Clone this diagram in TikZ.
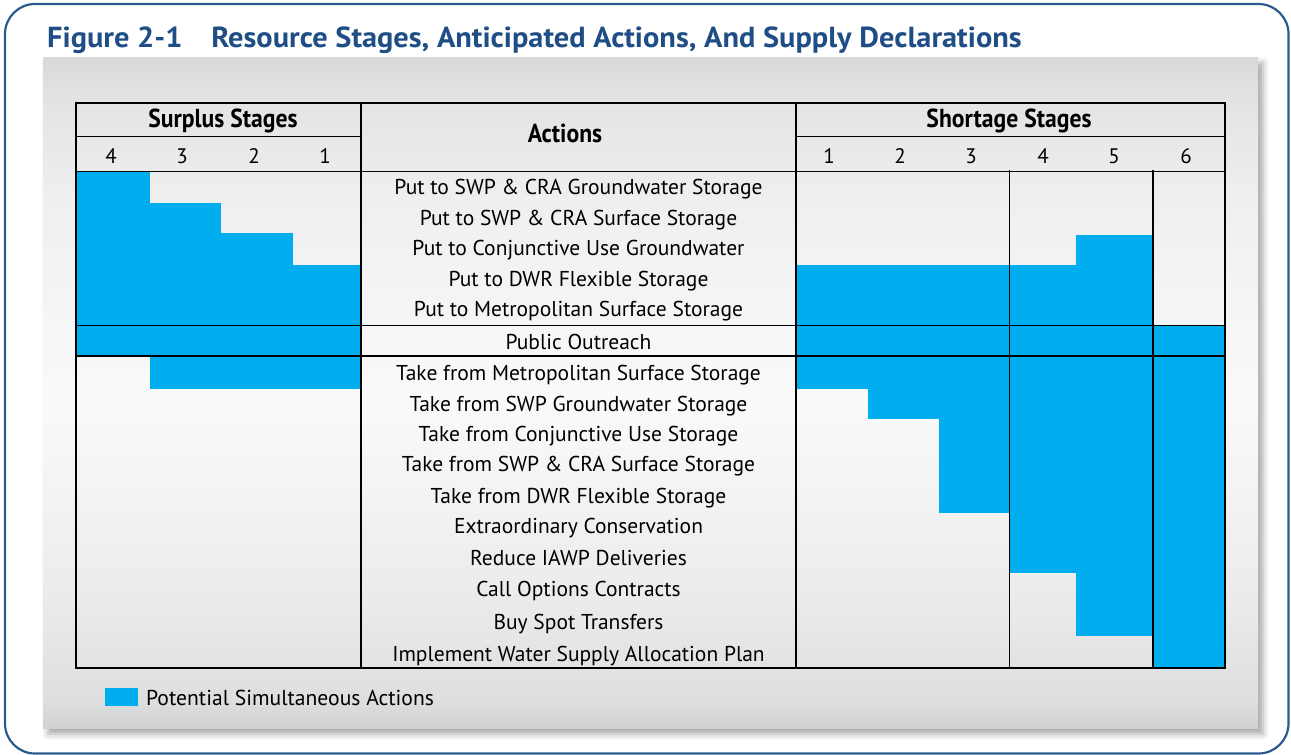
\documentclass[tikz,border=0pt]{standalone}
\usepackage{fontspec}
\usepackage{graphicx}
\setmainfont{PT Sans}
\usetikzlibrary{shadows.blur}
\definecolor{cyanfill}{HTML}{00AEEF}
\definecolor{titleblue}{HTML}{1F4E86}
\definecolor{frameblue}{HTML}{2B5A8E}
\definecolor{pA}{HTML}{D0D1D3}
\definecolor{pB}{HTML}{DDDEDF}
\definecolor{pC}{HTML}{EBEBEC}
\definecolor{pD}{HTML}{FAFAFA}
\definecolor{pE}{HTML}{EFEFF0}
\definecolor{pF}{HTML}{E4E5E6}
\definecolor{pG}{HTML}{D8D9DB}
\pgfdeclareverticalshading{panelshade}{100bp}{%
  color(0bp)=(pA); color(25bp)=(pA); color(27bp)=(pB); color(34.5bp)=(pC);
  color(49.4bp)=(pD); color(64.3bp)=(pE); color(71bp)=(pF); color(75bp)=(pG); color(100bp)=(pG)}
\tikzset{
  grid/.style={line width=1.5pt, black},
  cell/.style={fill=cyanfill},
  action/.style={anchor=base, inner sep=0pt, font=\fontsize{21.5}{24}\selectfont},
  num/.style={anchor=base, inner sep=0pt, font=\fontsize{21}{24}\selectfont},
  headtxt/.style={anchor=base, inner sep=0pt, font=\bfseries\fontsize{26}{28}\selectfont},
}
\newcommand{\cond}[1]{\scalebox{0.91}[1]{#1}}
\begin{document}
\begin{tikzpicture}[x=1pt,y=-1pt]
\useasboundingbox (0,0) rectangle (1291,755);
% outer frame
\draw[frameblue, line width=2.2pt, rounded corners=30pt] (5,4) rectangle (1288.5,753.5);
% title
\node[anchor=base west, inner sep=0pt, text=titleblue, font=\bfseries\fontsize{29}{31}\selectfont] (title) at (47,47)
  {\scalebox{1.047}[1]{Figure 2-1\hspace{0.95em}Resource Stages, Anticipated Actions, And Supply Declarations}};
% panel
\path[blur shadow={shadow xshift=5pt, shadow yshift=-6pt, shadow blur radius=6pt, shadow opacity=35},
      shading=panelshade] (43,57) rectangle (1258,728);
% blue cells - surplus
\fill[cell] (76,171.5) rectangle (149.5,325.5);
\fill[cell] (149.5,202.5) rectangle (221,325.5);
\fill[cell] (221,233) rectangle (293,325.5);
\fill[cell] (293,265) rectangle (361,325.5);
\fill[cell] (76,325.5) rectangle (361,356);
\fill[cell] (149.5,356) rectangle (361,388.5);
% blue cells - shortage
\fill[cell] (796,264.5) rectangle (1076,325.5);
\fill[cell] (1076,235) rectangle (1153,325.5);
\fill[cell] (796,325.5) rectangle (1225,356);
\fill[cell] (796,356) rectangle (868,388.5);
\fill[cell] (868,356) rectangle (939,419);
\fill[cell] (939,356) rectangle (1009.5,512.5);
\fill[cell] (1009.5,356) rectangle (1076,572.5);
\fill[cell] (1076,356) rectangle (1153,635.5);
\fill[cell] (1153,356) rectangle (1225,668);
% grid
\draw[grid] (76,103) rectangle (1225,668);
\draw[grid] (361,103) -- (361,668);
\draw[grid] (796,103) -- (796,668);
\draw[grid] (76,136.5) -- (361,136.5);
\draw[grid] (796,136.5) -- (1225,136.5);
\draw[grid] (76,171.5) -- (1225,171.5);
\draw[grid] (76,325.5) -- (1225,325.5);
\draw[grid] (76,356) -- (1225,356);
\draw[grid] (1009.5,170) -- (1009.5,668);
\draw[grid] (1153,170) -- (1153,668);
% headers
\node[headtxt] (hsur) at (223,127.5) {\cond{Surplus Stages}};
\node[headtxt] (hact) at (565,142) {\cond{Actions}};
\node[headtxt] (hsho) at (1009,127.5) {\cond{Shortage Stages}};
% stage numbers
\node[num] (s4) at (111,163) {4};
\node[num] (s3) at (182,163) {3};
\node[num] (s2) at (254,163) {2};
\node[num] (s1) at (325,163) {1};
\node[num] (t1) at (829,163) {1};
\node[num] (t2) at (900,163) {2};
\node[num] (t3) at (971,163) {3};
\node[num] (t4) at (1043,163) {4};
\node[num] (t5) at (1114,163) {5};
\node[num] (t6) at (1186,163) {6};
% actions
\node[action] (a1) at (578.5,194) {Put to SWP \& CRA Groundwater Storage};
\node[action] (a2) at (578.5,225) {Put to SWP \& CRA Surface Storage};
\node[action] (a3) at (578.5,255.5) {Put to Conjunctive Use Groundwater};
\node[action] (a4) at (578.5,286) {Put to DWR Flexible Storage};
\node[action] (a5) at (578.5,316.7) {Put to Metropolitan Surface Storage};
\node[action] (a6) at (578.5,349) {Public Outreach};
\node[action] (a7) at (578.5,380) {Take from Metropolitan Surface Storage};
\node[action] (a8) at (578.5,411) {Take from SWP Groundwater Storage};
\node[action] (a9) at (578.5,441) {Take from Conjunctive Use Storage};
\node[action] (a10) at (578.5,471.5) {Take from SWP \& CRA Surface Storage};
\node[action] (a11) at (578.5,503) {Take from DWR Flexible Storage};
\node[action] (a12) at (578.5,533) {Extraordinary Conservation};
\node[action] (a13) at (578.5,565) {Reduce IAWP Deliveries};
\node[action] (a14) at (578.5,596) {Call Options Contracts};
\node[action] (a15) at (578.5,629) {Buy Spot Transfers};
\node[action] (a16) at (578.5,661) {Implement Water Supply Allocation Plan};
% legend
\fill[cell] (105,688) rectangle (138,706);
\node[anchor=base west, inner sep=0pt, font=\fontsize{21.6}{24}\selectfont] (legend) at (146,705) {Potential Simultaneous Actions};
\end{tikzpicture}
\end{document}
